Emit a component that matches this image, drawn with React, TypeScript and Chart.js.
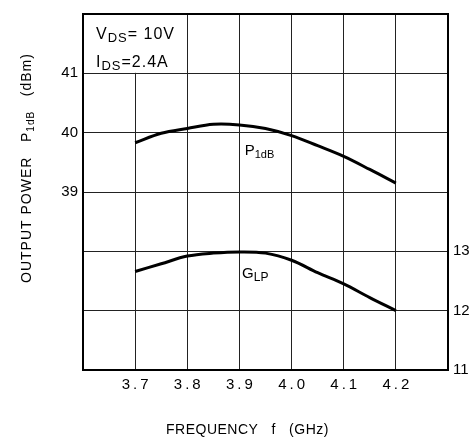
import React, { useEffect, useRef } from "react";
import { Chart, registerables } from "chart.js";

Chart.register(...registerables);

const freqGHz = [3.7, 3.75, 3.8, 3.85, 3.9, 3.95, 4.0, 4.05, 4.1, 4.15, 4.2];
const p1dBm = [39.83, 39.99, 40.07, 40.14, 40.13, 40.07, 39.95, 39.78, 39.6, 39.38, 39.15];
const glpDb = [12.66, 12.79, 12.92, 12.97, 12.99, 12.97, 12.85, 12.64, 12.45, 12.22, 12.0];
const xLabeled = [3.7, 3.8, 3.9, 4.0, 4.1, 4.2];
const leftLabeled = [39, 40, 41];
const rightLabeled = [11, 12, 13];

const FONT = "'Liberation Sans', Arial, Helvetica, sans-serif";

type Part = [string, boolean];

function drawParts(ctx: CanvasRenderingContext2D, parts: Part[], x: number, y: number, size: number, subSize: number) {
  let cx = x;
  for (const [t, sub] of parts) {
    ctx.font = `${sub ? subSize : size}px ${FONT}`;
    ctx.fillText(t, cx, sub ? y + size * 0.2 : y);
    cx += ctx.measureText(t).width;
  }
}

const decor = {
  id: "decor",
  beforeDatasetsDraw(chart: any) {
    const { ctx, chartArea, scales } = chart;
    const x38 = scales.x.getPixelForValue(3.8);
    const y41 = scales.y.getPixelForValue(41);
    ctx.save();
    ctx.fillStyle = "#fff";
    ctx.fillRect(chartArea.left + 1, chartArea.top + 1, x38 - chartArea.left - 1.5, y41 - chartArea.top - 1.5);
    ctx.fillStyle = "#000";
    ctx.textBaseline = "alphabetic";
    (ctx as any).letterSpacing = "1px";
    drawParts(ctx, [["V", false], ["DS", true], ["= 10V", false]], chartArea.left + 13, chartArea.top + 25, 16, 13);
    drawParts(ctx, [["I", false], ["DS", true], ["=2.4A", false]], chartArea.left + 13, chartArea.top + 53, 16, 13);
    ctx.restore();
  },
  afterDraw(chart: any) {
    const { ctx, chartArea, scales } = chart;
    ctx.save();
    ctx.strokeStyle = "#000";
    ctx.lineWidth = 2;
    ctx.strokeRect(chartArea.left, chartArea.top, chartArea.right - chartArea.left, chartArea.bottom - chartArea.top);
    ctx.fillStyle = "#000";
    ctx.textBaseline = "alphabetic";
    drawParts(ctx, [["P", false], ["1dB", true]], scales.x.getPixelForValue(3.91), scales.y.getPixelForValue(39.62), 15, 11);
    drawParts(ctx, [["G", false], ["LP", true]], scales.x.getPixelForValue(3.905), scales.y1.getPixelForValue(12.55), 15, 12);
    (ctx as any).letterSpacing = "0.5px";
    ctx.font = `14px ${FONT}`;
    ctx.textAlign = "left";
    ctx.fillText("FREQUENCY   f   (GHz)", 166, 434);
    ctx.translate(31, 283);
    ctx.rotate(-Math.PI / 2);
    (ctx as any).letterSpacing = "1px";
    drawParts(ctx, [["OUTPUT POWER   P", false], ["1dB", true], ["   (dBm)", false]], 0, 0, 14, 10);
    ctx.restore();
  },
};

export default function App() {
  const ref = useRef<HTMLCanvasElement>(null);
  useEffect(() => {
    if (!ref.current) return;
    const chart = new Chart(ref.current, {
      type: "line",
      data: {
        datasets: [
          {
            label: "P1dB",
            data: freqGHz.map((f, i) => ({ x: f, y: p1dBm[i] })),
            yAxisID: "y",
            borderColor: "#000",
            borderWidth: 3,
            pointRadius: 0,
            tension: 0.35,
            fill: false,
          },
          {
            label: "GLP",
            data: freqGHz.map((f, i) => ({ x: f, y: glpDb[i] })),
            yAxisID: "y1",
            borderColor: "#000",
            borderWidth: 3,
            pointRadius: 0,
            tension: 0.35,
            fill: false,
          },
        ],
      },
      options: {
        animation: false,
        responsive: false,
        layout: { padding: { top: 8, left: 0, right: 0, bottom: 0 } },
        plugins: { legend: { display: false }, tooltip: { enabled: false } },
        scales: {
          x: {
            type: "linear",
            min: 3.6,
            max: 4.3,
            afterBuildTicks: (s: any) => {
              s.ticks = [3.6, 3.7, 3.8, 3.9, 4.0, 4.1, 4.2, 4.3].map((v) => ({ value: v }));
            },
            afterFit: (s: any) => {
              s.height = 77;
            },
            ticks: {
              color: "#000",
              font: { family: FONT, size: 15 },
              padding: 6,
              maxRotation: 0,
              autoSkip: false,
              callback: (v: any) => {
                const n = Math.round(Number(v) * 10) / 10;
                return xLabeled.some((a) => Math.abs(a - n) < 1e-6) ? n.toFixed(1).split("").join("\u2009") : "";
              },
            },
            grid: { color: "#222", lineWidth: 1, drawTicks: false },
            border: { display: false },
          },
          y: {
            type: "linear",
            position: "left",
            min: 36,
            max: 42,
            afterFit: (s: any) => {
              s.width = 83;
            },
            ticks: {
              stepSize: 1,
              color: "#000",
              font: { family: FONT, size: 15 },
              padding: 5,
              callback: (v: any) => (leftLabeled.includes(Math.round(Number(v))) ? String(Math.round(Number(v))) : ""),
            },
            grid: { color: "#222", lineWidth: 1, drawTicks: false },
            border: { display: false },
          },
          y1: {
            type: "linear",
            position: "right",
            min: 11,
            max: 17,
            afterFit: (s: any) => {
              s.width = 24;
            },
            ticks: {
              stepSize: 1,
              color: "#000",
              font: { family: FONT, size: 15 },
              padding: 5,
              callback: (v: any) => (rightLabeled.includes(Math.round(Number(v))) ? String(Math.round(Number(v))) : ""),
            },
            grid: { display: false, drawTicks: false },
            border: { display: false },
          },
        },
      },
      plugins: [decor],
    });
    return () => chart.destroy();
  }, []);
  return (
    <div style={{ position: "absolute", left: 0, top: 0, width: 472, height: 447, background: "#fff" }}>
      <canvas ref={ref} width={472} height={447} />
    </div>
  );
}
